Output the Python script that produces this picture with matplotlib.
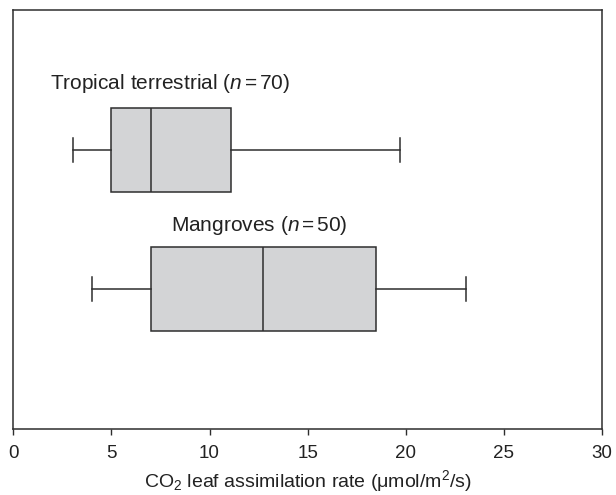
import matplotlib
matplotlib.use("Agg")
import matplotlib.pyplot as plt

plt.rcParams['font.family'] = ['Liberation Sans', 'DejaVu Sans']
plt.rcParams['mathtext.fontset'] = 'custom'
plt.rcParams['mathtext.rm'] = 'Liberation Sans'
plt.rcParams['mathtext.it'] = 'Liberation Sans:italic'

# five-number summaries
groups = ["Tropical terrestrial", "Mangroves"]
counts = [70, 50]
whislo = [3.05, 4.0]
q1 = [5.0, 7.0]
med = [7.0, 12.7]
q3 = [11.1, 18.5]
whishi = [19.7, 23.05]

positions = [2, 1]
label_x = [1.88, 8.05]
label_y = [2.434, 1.418]

stats = []
for i in range(len(groups)):
    stats.append(dict(label=groups[i], whislo=whislo[i], q1=q1[i], med=med[i],
                      q3=q3[i], whishi=whishi[i], fliers=[]))

fig = plt.figure(figsize=(6.16, 4.95), dpi=100)
ax = fig.add_axes([0.0216, 0.1333, 0.9557, 0.8465])

edge = '#2e2e2e'
line = dict(color=edge, linewidth=1.1)
ax.bxp(stats, positions=positions, vert=False, widths=0.6, capwidths=0.172,
       patch_artist=True, showfliers=False,
       boxprops=dict(facecolor='#d3d4d6', edgecolor=edge, linewidth=1.1),
       medianprops=line, whiskerprops=line, capprops=line)

for i in range(len(groups)):
    ax.text(label_x[i], label_y[i],
            groups[i] + r" ($\it{n}$$\,$=$\,$" + str(counts[i]) + ")",
            fontsize=15, color='#222222', va='baseline', ha='left')

ax.set_xlim(0, 30)
ax.set_ylim(0, 3)
ax.set_xticks(range(0, 31, 5))
ax.set_yticks([])
ax.tick_params(axis='x', labelsize=13.5, length=4.3, width=1, colors=edge,
               labelcolor='#222222', pad=7.5)
for s in ax.spines.values():
    s.set_color(edge)
    s.set_linewidth(1.1)
ax.set_xlabel(r"CO$_2$ leaf assimilation rate ($\mathrm{\mu}$mol/m$^2$/s)",
              fontsize=14, color='#222222')
ax.xaxis.label.set_va('baseline')
ax.xaxis.set_label_coords(0.5, -0.138)

fig.savefig("out.png", dpi=100)
